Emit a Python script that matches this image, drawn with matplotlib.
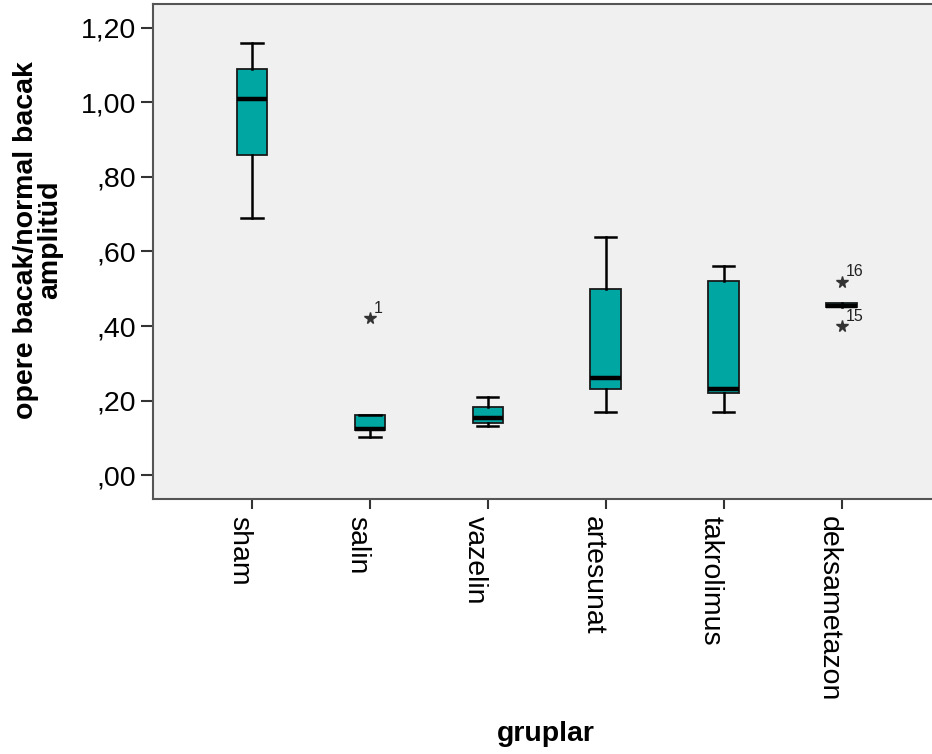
import matplotlib.pyplot as plt

plt.rcParams['font.family'] = ['Liberation Sans', 'DejaVu Sans']

groups = ["sham", "salin", "vazelin", "artesunat", "takrolimus", "deksametazon"]
whislo = [0.690, 0.102, 0.132, 0.169, 0.169, 0.455]
q1 = [0.859, 0.121, 0.140, 0.231, 0.220, 0.451]
med = [1.009, 0.123, 0.153, 0.260, 0.231, 0.455]
q3 = [1.090, 0.161, 0.182, 0.499, 0.521, 0.462]
whishi = [1.160, 0.161, 0.209, 0.639, 0.561, 0.455]
outliers = [[], [0.421], [], [], [], [0.518, 0.400]]
outlier_ids = [[], ["1"], [], [], [], ["16", "15"]]

yticks = [0.0, 0.2, 0.4, 0.6, 0.8, 1.0, 1.2]
ytick_labels = [",00", ",20", ",40", ",60", ",80", "1,00", "1,20"]

stats = []
for i, g in enumerate(groups):
    stats.append(dict(label=g, whislo=whislo[i], q1=q1[i], med=med[i],
                      q3=q3[i], whishi=whishi[i], fliers=[]))

fig = plt.figure(figsize=(9.32, 7.54), dpi=100)
ax = fig.add_axes([0.164, 0.338, 0.8455, 0.657])
ax.set_facecolor("#f0f0f0")

pos = list(range(1, len(groups) + 1))
ax.bxp(stats, positions=pos, widths=0.26, patch_artist=True, showfliers=False,
       boxprops=dict(facecolor="#00a6a2", edgecolor="#1a1a1a", linewidth=1.3),
       medianprops=dict(color="black", linewidth=3.2),
       whiskerprops=dict(color="black", linewidth=1.8),
       capprops=dict(color="black", linewidth=1.8),
       capwidths=0.18)

# outliers (stars) with case numbers
for i, (vals, ids) in enumerate(zip(outliers, outlier_ids)):
    for v, lab in zip(vals, ids):
        ax.plot(pos[i], v, marker="*", color="#333333", markersize=8.5, linestyle="none")
        ax.annotate(lab, (pos[i], v), xytext=(3, 4), textcoords="offset points",
                    fontsize=11.5, color="#222222")

ax.set_xlim(0.16, 6.84)
ax.set_ylim(-0.064, 1.264)
ax.set_yticks(yticks)
ax.set_yticklabels(ytick_labels, fontsize=20.5)
ax.set_xticks(pos)
ax.set_xticklabels(groups, rotation=270, fontsize=20.5, ha="right", va="top")
ax.tick_params(axis="y", length=9, width=1.5, color="#333333", pad=3)
ax.tick_params(axis="x", length=7, width=1.5, color="#333333", pad=5)
for s in ax.spines.values():
    s.set_color("#555555")
    s.set_linewidth(1.5)

fig.text(0.041, 0.682, "opere bacak/normal bacak\namplitüd", rotation=90,
         ha="center", va="center", fontsize=20.5, fontweight="bold",
         multialignment="center", linespacing=0.9)
fig.text(0.586, 0.027, "gruplar", ha="center", va="center",
         fontsize=20.5, fontweight="bold")

fig.savefig("out.png", dpi=100)
